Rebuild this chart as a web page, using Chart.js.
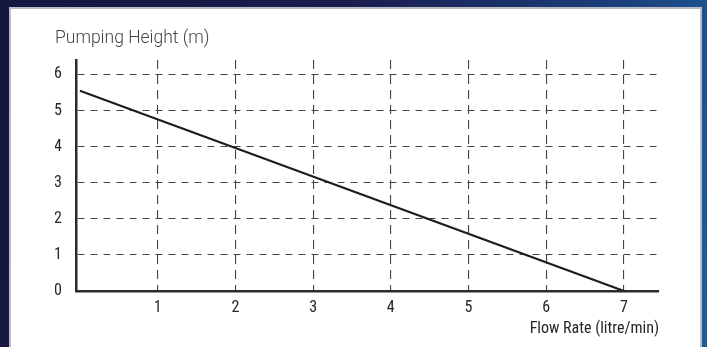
<!DOCTYPE html>
<html>
<head>
<meta charset="utf-8">
<script src="https://cdn.jsdelivr.net/npm/chart.js@4"></script>
<style>
  html, body { margin: 0; padding: 0; width: 707px; height: 347px; overflow: hidden; }
  body {
    background: linear-gradient(100deg, #15163f 0%, #1a1c4e 45%, #1b3f7a 80%, #1f5c9c 100%);
    position: relative;
  }
  #panel {
    position: absolute; left: 9px; top: 7px; width: 693px; height: 350px;
    background: #ffffff; border: 2px solid #b9bcc4; box-sizing: border-box;
  }
  #wrap { position: absolute; left: 0; top: 0; width: 707px; height: 347px; }
</style>
</head>
<body>
<div id="panel"></div>
<div id="wrap"><canvas id="c" width="707" height="347"></canvas></div>
<script>
// ---- data ----
const flowRate = [0, 7];            // litre/min
const pumpingHeight = [5.55, 0];    // m
const xTicks = [1, 2, 3, 4, 5, 6, 7];
const yTicks = [0, 1, 2, 3, 4, 5, 6];
const yTitle = 'Pumping Height (m)';
const xTitle = 'Flow Rate (litre/min)';

const narrow = '"Roboto Condensed", "Liberation Sans Narrow", "DejaVu Sans Condensed", "Arial Narrow", sans-serif';

new Chart(document.getElementById('c'), {
  type: 'scatter',
  data: {
    datasets: [{
      data: flowRate.map((x, i) => ({ x: x, y: pumpingHeight[i] })),
      showLine: true,
      borderColor: '#1e1e1e',
      borderWidth: 2.2,
      pointRadius: 0,
      fill: false
    }]
  },
  options: {
    responsive: false,
    animation: false,
    devicePixelRatio: 1,
    layout: { padding: { left: 55, right: 48, top: 28, bottom: 0 } },
    plugins: {
      legend: { display: false },
      tooltip: { enabled: false },
      title: {
        display: true,
        text: yTitle,
        align: 'start',
        color: '#444444',
        font: { family: 'Roboto', size: 17.5, weight: '300' },
        padding: { top: 0, bottom: 11 }
      }
    },
    scales: {
      x: {
        type: 'linear',
        min: -0.05,
        max: 7.45,
        afterBuildTicks: s => { s.ticks = xTicks.map(v => ({ value: v })); },
        afterFit: s => { s.height = 56; },
        grid: { color: '#444444', lineWidth: 1.1, drawTicks: false },
        border: { display: true, color: '#2b2b2b', width: 2.5, dash: [9, 6] },
        ticks: { color: '#262626', padding: 7, maxRotation: 0, font: { family: narrow, size: 16 } },
        title: {
          display: true, text: xTitle, align: 'end', color: '#262626',
          font: { family: narrow, size: 16 }, padding: { top: 0, bottom: 8 }
        }
      },
      y: {
        type: 'linear',
        min: 0,
        max: 6.4,
        afterBuildTicks: s => { s.ticks = yTicks.map(v => ({ value: v })); },
        afterFit: s => { s.width = 21; },
        grid: { color: '#444444', lineWidth: 1.1, drawTicks: false },
        border: { display: true, color: '#2b2b2b', width: 2.5, dash: [7, 6] },
        ticks: { color: '#262626', padding: 14, font: { family: narrow, size: 16 } }
      }
    }
  }
});
</script>
</body>
</html>
